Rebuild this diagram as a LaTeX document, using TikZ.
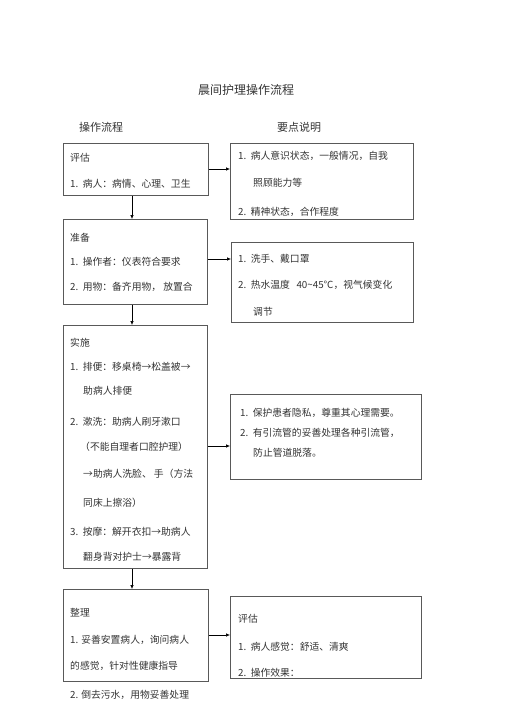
\documentclass[tikz,border=0pt]{standalone}
\usepackage{fontspec}
\newfontfamily\cjk{Noto Sans CJK SC}
\usetikzlibrary{arrows.meta}

\begin{document}
\begin{tikzpicture}[x=1pt, y=-1pt,
    box/.style={draw=black!65, line width=0.8pt, anchor=north west, inner sep=0pt},
    txt/.style={anchor=west, inner sep=0pt, text=black!80, font=\cjk\fontsize{9.8}{11}\selectfont},
    arr/.style={-{Latex[length=4pt,width=3.5pt]}, line width=0.6pt}]
    \useasboundingbox (0,0) rectangle (505,714);

    % headings
    \node[txt, anchor=center, font=\cjk\fontsize{12}{14}\selectfont] (title) at (246,90) {晨间护理操作流程};
    \node[txt, font=\cjk\fontsize{11}{13}\selectfont] (hleft) at (79,127) {操作流程};
    \node[txt, font=\cjk\fontsize{11}{13}\selectfont] (hright) at (277,127) {要点说明};

    % left column
    \node[box, minimum width=145pt, minimum height=52pt] (pinggu) at (63,143) {};
    \node[box, minimum width=144pt, minimum height=85pt] (zhunbei) at (63,219) {};
    \node[box, minimum width=144pt, minimum height=243pt] (shishi) at (63,325) {};
    \node[box, minimum width=145pt, minimum height=92pt] (zhengli) at (63,589) {};

    % right column
    \node[box, minimum width=183pt, minimum height=76pt] (yd1) at (230,143) {};
    \node[box, minimum width=182pt, minimum height=80pt] (yd2) at (231,242) {};
    \node[box, minimum width=191pt, minimum height=85pt] (yd3) at (230,394) {};
    \node[box, minimum width=191pt, minimum height=82pt] (yd4) at (230,596) {};

    % texts
    \node[txt] (pg0) at (70,158) {评估};
    \node[txt] (pg1) at (70,184) {1.~~病人：病情、心理、卫生};

    \node[txt] (ya1) at (238,156) {1.~~病人意识状态，一般情况，自我};
    \node[txt] (ya2) at (253,183) {照顾能力等};
    \node[txt] (ya3) at (238,212) {2.~~精神状态，合作程度};

    \node[txt] (zb0) at (70,238) {准备};
    \node[txt] (zb1) at (70,262) {1.~~操作者：仪表符合要求};
    \node[txt] (zb2) at (70,287) {2.~~用物：备齐用物，~放置合};

    \node[txt] (yb1) at (238,259) {1.~~洗手、戴口罩};
    \node[txt] (yb2) at (238,285) {2.~~热水温度~~~40\textasciitilde45℃，视气候变化};
    \node[txt] (yb3) at (253,312) {调节};

    \node[txt] (ss0) at (70,343) {实施};
    \node[txt] (ss1) at (70,367) {1.~~排便：移桌椅→松盖被→};
    \node[txt] (ss2) at (83,391) {助病人排便};
    \node[txt] (ss3) at (70,422) {2.~~漱洗：助病人刷牙漱口};
    \node[txt] (ss4) at (80,447) {（不能自理者口腔护理）};
    \node[txt] (ss5) at (83,474) {→助病人洗脸、~手（方法};
    \node[txt] (ss6) at (83,503) {同床上擦浴）};
    \node[txt] (ss7) at (70,532) {3.~~按摩：解开衣扣→助病人};
    \node[txt] (ss8) at (83,557) {翻身背对护士→暴露背};

    \node[txt] (yc1) at (240,413) {1.~~保护患者隐私，尊重其心理需要。};
    \node[txt] (yc2) at (240,433) {2.~~有引流管的妥善处理各种引流管，};
    \node[txt] (yc3) at (253,453) {防止管道脱落。};

    \node[txt] (zl0) at (70,613) {整理};
    \node[txt] (zl1) at (70,640) {1. 妥善安置病人，询问病人};
    \node[txt] (zl2) at (70,666) {的感觉，针对性健康指导};
    \node[txt] (zl3) at (70,695) {2. 倒去污水，用物妥善处理};

    \node[txt] (yd0) at (238,619) {评估};
    \node[txt] (yd5) at (238,647) {1.~~病人感觉：舒适、清爽};
    \node[txt] (yd6) at (238,673) {2.~~操作效果：};

    % arrows down
    \draw[arr] (pinggu.south -| 132,0) -- (zhunbei.north -| 132,0);
    \draw[arr] (zhunbei.south -| 132,0) -- (shishi.north -| 132,0);
    \draw[arr] (shishi.south -| 132,0) -- (zhengli.north -| 132,0);

    % arrows right
    \draw[arr] (pinggu.east |- 0,169) -- (yd1.west |- 0,169);
    \draw[arr] (zhunbei.east |- 0,259) -- (yd2.west |- 0,259);
    \draw[arr] (shishi.east |- 0,446) -- (yd3.west |- 0,446);
    \draw[arr] (zhengli.east |- 0,635) -- (yd4.west |- 0,635);
\end{tikzpicture}
\end{document}
